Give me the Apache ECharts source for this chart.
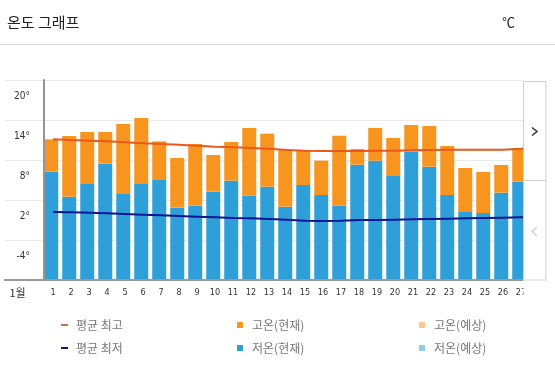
<!DOCTYPE html>
<html>
<head>
<meta charset="utf-8">
<script src="https://cdn.jsdelivr.net/npm/echarts@6/dist/echarts.min.js"></script>
<style>
html,body{margin:0;padding:0;background:#fff;}
#chart{width:555px;height:376px;}
</style>
</head>
<body>
<div id="chart"></div>
<script>
// ---- data ----
const categories = ['1','2','3','4','5','6','7','8','9','10','11','12','13','14','15','16','17','18','19','20','21','22','23','24','25','26','27','28'];
const highNow = [13.6,14.1,14.7,14.7,15.9,16.8,13.3,10.8,12.9,11.25,13.2,15.3,14.45,12.1,12.0,10.4,14.15,12.15,15.3,13.8,15.75,15.6,12.6,9.3,8.7,9.75,12.3,12.5];
const lowNow  = [8.75,5.0,6.9,9.95,5.4,6.9,7.5,3.35,3.65,5.75,7.4,5.15,6.5,3.5,6.75,5.25,3.65,9.8,10.4,8.1,11.75,9.5,5.25,2.7,2.55,5.6,7.25,7.0];
const avgHigh = [13.6,13.5,13.4,13.3,13.15,13.0,12.9,12.8,12.65,12.5,12.4,12.3,12.2,12.0,11.9,11.85,11.85,11.85,11.9,11.9,11.95,12.0,12.05,12.05,12.05,12.05,12.2,12.4];
const avgLow  = [2.7,2.65,2.6,2.5,2.4,2.3,2.2,2.1,2.0,1.9,1.8,1.75,1.65,1.55,1.4,1.35,1.4,1.5,1.5,1.55,1.6,1.65,1.7,1.75,1.8,1.85,1.9,1.95];
const yTickValues = [-4, 2, 8, 14, 20];
const monthLabel = '1월';

// axis base: bars rise from the bottom of the plot (-7.5°)
const BASE = 7.5;
const shift = a => a.map(v => +(v + BASE).toFixed(3));
const diff = highNow.map((h, i) => +(h - lowNow[i]).toFixed(3));

const FONT = '"Noto Sans CJK KR", "Noto Sans", sans-serif';
const chart = echarts.init(document.getElementById('chart'));

chart.setOption({
  animation: false,
  backgroundColor: '#fff',
  title: [
    { text: '온도 그래프', left: 7, top: 14.5, padding: 0,
      textStyle: { fontFamily: FONT, fontSize: 15, fontWeight: 'normal', color: '#222' } },
    { text: '℃', left: 502, top: 16, padding: 0,
      textStyle: { fontFamily: FONT, fontSize: 13, fontWeight: 'normal', color: '#222' } }
  ],
  grid: [
    { left: 44, top: 80, width: 504, height: 200, containLabel: false },
    { left: 5, top: 80, width: 518, height: 200, containLabel: false }
  ],
  xAxis: [
    { type: 'category', gridIndex: 0, data: categories, boundaryGap: true,
      axisLine: { show: false }, axisTick: { show: false },
      axisLabel: { interval: 0, margin: 8, fontSize: 9, color: '#333', fontFamily: 'DejaVu Sans Condensed, sans-serif' },
      splitLine: { show: false } },
    { type: 'value', gridIndex: 1, min: 0, max: 1, z: 10,
      axisLine: { show: true, lineStyle: { color: '#999', width: 2 } },
      axisTick: { show: false }, axisLabel: { show: false }, splitLine: { show: false } }
  ],
  yAxis: [
    { type: 'value', gridIndex: 0, min: 0, max: 30, interval: 6, z: 10,
      axisLine: { show: true, lineStyle: { color: '#959595', width: 2 } },
      axisTick: { show: false }, splitLine: { show: false },
      axisLabel: {
        margin: 14, fontSize: 10, color: '#333', fontFamily: 'DejaVu Sans Condensed, sans-serif',
        customValues: yTickValues.map(v => v + BASE),
        formatter: v => Math.round(v - BASE) + '°'
      } },
    { type: 'value', gridIndex: 1, min: 0, max: 30, interval: 6,
      axisLine: { show: false }, axisTick: { show: false }, axisLabel: { show: false },
      splitLine: { show: true, lineStyle: { color: '#eaeaea', width: 1 } } }
  ],
  legend: [
    { orient: 'vertical', left: 61, top: 319, padding: 0, itemGap: 11, itemWidth: 7, itemHeight: 2,
      icon: 'rect', textStyle: { fontFamily: FONT, fontSize: 12, color: '#777', padding: [0,0,0,3] },
      data: ['평균 최고', '평균 최저'] },
    { orient: 'vertical', left: 237, top: 319, padding: 0, itemGap: 11, itemWidth: 6, itemHeight: 6,
      icon: 'rect', textStyle: { fontFamily: FONT, fontSize: 12, color: '#777', padding: [0,0,0,4] },
      data: ['고온(현재)', '저온(현재)'] },
    { orient: 'vertical', left: 419, top: 319, padding: 0, itemGap: 11, itemWidth: 6, itemHeight: 6,
      icon: 'rect', textStyle: { fontFamily: FONT, fontSize: 12, color: '#777', padding: [0,0,0,4] },
      data: ['고온(예상)', '저온(예상)'] }
  ],
  series: [
    { name: '저온(현재)', type: 'bar', stack: 't', xAxisIndex: 0, yAxisIndex: 0,
      barWidth: 14, data: shift(lowNow), itemStyle: { color: '#2e9fd9' } },
    { name: '고온(현재)', type: 'bar', stack: 't', xAxisIndex: 0, yAxisIndex: 0,
      barWidth: 14, data: diff, itemStyle: { color: '#f7951f' } },
    { name: '고온(예상)', type: 'bar', xAxisIndex: 0, yAxisIndex: 0, data: [], itemStyle: { color: '#fbc68f' } },
    { name: '저온(예상)', type: 'bar', xAxisIndex: 0, yAxisIndex: 0, data: [], itemStyle: { color: '#91cbe9' } },
    { name: '평균 최고', type: 'line', xAxisIndex: 0, yAxisIndex: 0, data: shift(avgHigh),
      symbol: 'none', lineStyle: { color: '#e9581c', width: 2 }, itemStyle: { color: '#d0703a' }, z: 5 },
    { name: '평균 최저', type: 'line', xAxisIndex: 0, yAxisIndex: 0, data: shift(avgLow),
      symbol: 'none', lineStyle: { color: '#0b1590', width: 2 }, itemStyle: { color: '#0b1590' }, z: 5 }
  ],
  graphic: [
    { type: 'line', z: 100, shape: { x1: 0, y1: 44.5, x2: 555, y2: 44.5 }, style: { stroke: '#dcdcdc', lineWidth: 1 } },
    { type: 'rect', z: 100, shape: { x: 523.5, y: 70, width: 32, height: 245 }, style: { fill: '#fff' } },
    { type: 'rect', z: 101, shape: { x: 523.5, y: 81.5, width: 22.5, height: 198.5 }, style: { fill: '#fff', stroke: '#cfcfcf', lineWidth: 1 } },
    { type: 'line', z: 102, shape: { x1: 523.5, y1: 180.5, x2: 546, y2: 180.5 }, style: { stroke: '#cfcfcf', lineWidth: 1 } },
    { type: 'polyline', z: 102, shape: { points: [[532, 127.5], [537, 131.5], [532, 135.5]] }, style: { stroke: '#333', lineWidth: 1.5, fill: null } },
    { type: 'polyline', z: 102, shape: { points: [[537, 227], [532, 231.5], [537, 236]] }, style: { stroke: '#d0d0d0', lineWidth: 1.5, fill: null } },
    { type: 'text', z: 102, x: 17.5, y: 293, style: { text: monthLabel, font: '11px ' + FONT, fill: '#333', textAlign: 'center', textVerticalAlign: 'middle' } }
  ]
});
</script>
</body>
</html>
